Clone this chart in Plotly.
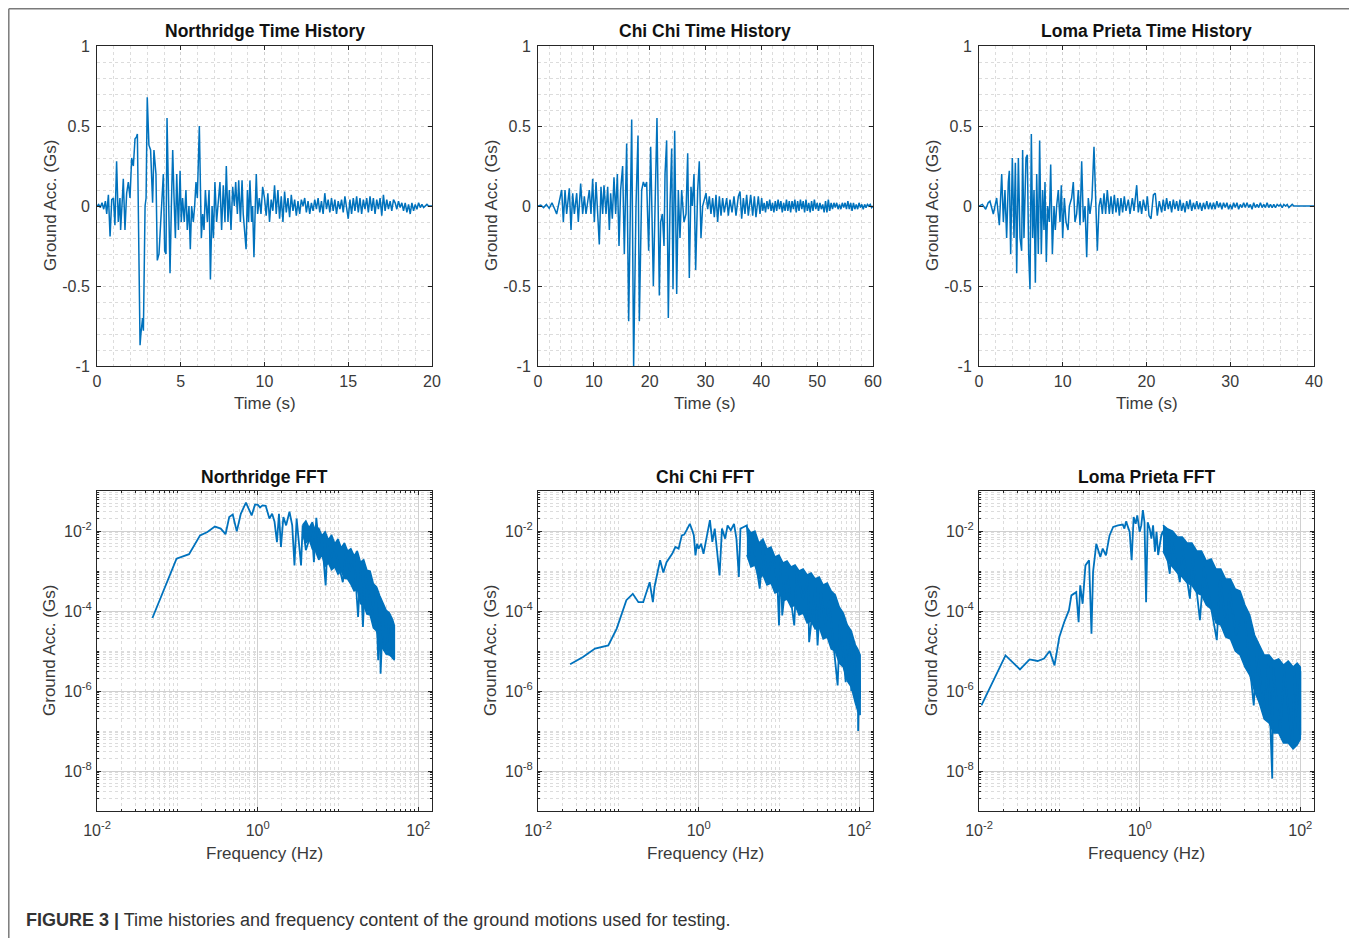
import numpy as np
import plotly.graph_objects as go

# ---------------- DATA ----------------
# Northridge time history (s, g)
nr_t_main = [
    0.00, 0.10, 0.20, 0.30, 0.40, 0.50, 0.58, 0.68, 0.78, 0.88,
    0.98, 1.07, 1.17, 1.27, 1.37, 1.41, 1.50, 1.57, 1.67, 1.77,
    1.87, 1.97, 2.07, 2.17, 2.27, 2.35, 2.41, 2.57, 2.62, 2.67,
    2.72, 2.77, 2.87, 2.93, 3.00, 3.10, 3.20, 3.32, 3.40, 3.52,
    3.60, 3.70, 3.80, 3.88, 3.96, 4.04, 4.12, 4.18, 4.26, 4.36,
    4.44, 4.52, 4.60, 4.68, 4.76, 4.86, 4.96, 5.03, 5.11, 5.21,
    5.31, 5.39, 5.49, 5.57, 5.65, 5.75, 5.83, 5.91, 5.99, 6.11,
    6.23, 6.31, 6.39, 6.47, 6.59, 6.69, 6.77, 6.87, 6.95, 7.04,
    7.14, 7.24, 7.34, 7.44, 7.54, 7.64, 7.72, 7.82, 7.90, 8.00,
    8.10, 8.20, 8.28, 8.38, 8.46, 8.56, 8.66, 8.73, 8.80, 8.90,
    8.98, 9.05, 9.13, 9.23, 9.29, 9.37, 9.45, 9.51, 9.59, 9.69,
    9.79, 9.89]
nr_a_main = [
    0.00, 0.01, -0.01, 0.02, -0.02, 0.03, -0.05, 0.07, -0.19, 0.04,
    0.05, -0.12, 0.28, -0.10, 0.05, -0.15, 0.02, 0.17, -0.15, 0.08,
    0.15, 0.05, 0.30, 0.25, 0.42, 0.43, 0.45, -0.87, -0.80, -0.75,
    -0.70, -0.78, 0.00, 0.05, 0.68, 0.38, 0.35, 0.02, 0.35, 0.20,
    -0.34, -0.30, -0.10, 0.05, 0.20, -0.28, -0.30, 0.55, 0.00, -0.42,
    0.00, 0.35, 0.05, -0.20, 0.20, -0.15, 0.22, -0.10, 0.05, -0.10,
    0.10, -0.15, 0.00, -0.27, 0.00, -0.10, 0.00, 0.15, 0.05, 0.50,
    -0.20, -0.05, -0.15, 0.10, -0.10, 0.10, -0.46, 0.00, -0.20, 0.15,
    -0.10, 0.05, 0.15, -0.15, 0.13, -0.10, 0.25, -0.10, 0.10, -0.15,
    0.12, 0.00, 0.15, -0.05, 0.16, -0.10, 0.16, -0.05, -0.15, -0.27,
    0.10, -0.10, 0.16, -0.10, 0.00, -0.32, 0.00, 0.20, -0.05, 0.05,
    -0.05, 0.12]
nr_tail_start, nr_tail_step = 10.0, 0.1
nr_a_tail = [
    0.05, -0.06, 0.08, -0.10, 0.04, -0.03, 0.13, -0.05, 0.10, -0.08,
    0.06, -0.10, 0.09, -0.04, 0.05, -0.07, 0.07, -0.03, 0.04, -0.06,
    0.03, -0.05, 0.04, 0.00, 0.05, -0.04, 0.03, -0.05, 0.02, -0.03,
    0.04, -0.02, 0.05, -0.04, 0.03, -0.05, 0.08, -0.02, 0.04, -0.04,
    0.05, -0.03, 0.04, -0.05, 0.03, -0.02, 0.04, -0.04, 0.06, -0.03,
    -0.08, 0.04, -0.05, 0.05, -0.03, 0.06, -0.04, 0.05, -0.05, 0.04,
    -0.02, 0.05, -0.04, 0.06, -0.03, 0.05, -0.05, 0.04, -0.02, 0.05,
    -0.06, 0.07, -0.03, 0.04, -0.02, 0.03, -0.03, 0.04, 0.02, -0.02,
    0.03, -0.01, 0.02, -0.03, 0.02, -0.04, 0.01, -0.05, 0.02, -0.03,
    0.01, -0.02, 0.02, -0.01, 0.01, -0.01, 0.00, 0.01, 0.00, 0.00,
    0.00]

# Chi Chi time history
cc_t_main = [
    0.0, 0.5, 1.0, 1.5, 2.0, 2.5, 3.0, 3.34, 3.94, 4.24,
    4.54, 4.84, 5.13, 5.61, 5.91, 6.21, 6.51, 6.93, 7.22, 7.64,
    8.00, 8.30, 8.60, 8.90, 9.19, 9.49, 9.79, 10.09, 10.39, 10.69,
    10.98, 11.28, 11.58, 11.82, 12.18, 12.48, 12.78, 13.01, 13.31, 13.61,
    13.91, 14.21, 14.51, 14.80, 15.16, 15.46, 15.88, 16.24, 16.78, 17.13,
    17.55, 17.91, 18.15, 18.57, 18.87, 19.16, 19.46, 19.82, 20.18, 20.66,
    20.95, 21.31, 21.73, 21.97, 22.27, 22.57, 22.75, 23.04, 23.34, 23.64,
    23.94, 24.18, 24.48, 24.84, 25.13, 25.43, 25.73, 26.15, 26.51, 26.81,
    27.10, 27.40, 27.64, 27.94, 28.24, 28.60, 28.89, 29.19, 29.49, 29.79,
    30.09, 30.39, 30.69, 30.98, 31.28, 31.58, 31.88, 32.18, 32.48, 32.78,
    33.07, 33.37, 33.79, 34.09, 34.39, 34.75, 35.10, 35.46, 35.88, 36.18,
    36.48, 36.78, 37.07, 37.37, 37.67, 38.09, 38.45, 38.75, 39.04, 39.46,
    39.76, 40.06]
cc_a_main = [
    0.0, 0.005, -0.01, 0.01, -0.015, 0.02, -0.02, -0.05, 0.05, 0.10,
    -0.10, 0.10, -0.05, 0.11, -0.15, 0.08, -0.05, 0.08, -0.10, 0.14,
    -0.05, 0.06, -0.05, 0.02, 0.10, -0.05, 0.17, -0.10, 0.15, -0.05,
    -0.24, 0.12, -0.05, 0.13, -0.05, 0.12, -0.15, 0.08, -0.08, 0.18,
    -0.05, 0.20, -0.25, 0.10, 0.25, -0.30, 0.39, -0.72, 0.54, -1.00,
    0.00, 0.44, -0.72, 0.10, 0.15, 0.12, 0.15, -0.28, 0.37, -0.50,
    0.00, 0.55, -0.56, -0.10, -0.05, -0.25, 0.20, 0.41, -0.70, 0.00,
    0.36, -0.52, 0.47, -0.55, 0.10, -0.20, 0.10, -0.10, -0.05, 0.33,
    -0.45, 0.12, 0.00, 0.20, -0.40, 0.10, 0.28, -0.20, 0.00, 0.05,
    0.08, -0.02, 0.06, -0.05, 0.05, -0.07, 0.07, -0.10, 0.06, -0.06,
    0.05, -0.04, 0.05, -0.06, 0.04, -0.04, 0.06, -0.06, 0.06, 0.09,
    -0.08, 0.05, -0.05, 0.07, -0.06, 0.07, -0.06, 0.06, -0.07, 0.06,
    -0.05, 0.05]
cc_tail_start, cc_tail_step = 40.25, 0.25
cc_a_tail = [
    -0.03, 0.02, -0.04, 0.03, -0.02, 0.04, -0.03, 0.02, -0.04, 0.03,
    -0.03, 0.04, -0.02, 0.03, -0.04, 0.02, -0.03, 0.04, -0.03, 0.03,
    -0.04, 0.03, -0.02, 0.04, -0.04, 0.03, -0.03, 0.04, -0.02, 0.03,
    -0.04, 0.04, -0.03, 0.02, -0.04, 0.03, -0.03, 0.04, -0.02, 0.02,
    -0.03, 0.02, -0.02, 0.01, -0.04, 0.03, -0.04, 0.04, -0.03, 0.02,
    -0.02, 0.02, -0.01, 0.02, -0.02, 0.01, -0.02, 0.02, -0.01, 0.02,
    -0.02, 0.03, -0.02, 0.02, -0.03, 0.02, -0.02, 0.01, -0.02, 0.02,
    -0.01, 0.01, -0.02, 0.01, -0.01, 0.01, 0.00, 0.01, -0.01, 0.00]

# Loma Prieta time history
lp_t_main = [
    0.0, 0.4, 0.8, 1.1, 1.31, 1.71, 2.11, 2.43, 2.71, 2.91,
    3.10, 3.30, 3.50, 3.62, 3.78, 3.98, 4.18, 4.34, 4.50, 4.70,
    4.90, 5.09, 5.21, 5.37, 5.61, 5.77, 5.93, 6.09, 6.25, 6.41,
    6.57, 6.73, 6.89, 7.08, 7.24, 7.44, 7.60, 7.76, 7.88, 8.04,
    8.20, 8.40, 8.56, 8.76, 8.96, 9.11, 9.27, 9.47, 9.67, 9.83,
    9.99, 10.19, 10.39, 10.63, 10.79, 11.06, 11.26, 11.46, 11.66, 11.86,
    12.06, 12.26, 12.46, 12.66, 12.86, 13.05, 13.25, 13.49, 13.73, 13.93,
    14.13, 14.33, 14.53, 14.73, 14.93, 15.12, 15.32, 15.56, 15.76, 15.96,
    16.16, 16.36, 16.56, 16.76, 16.95, 17.15, 17.35, 17.55, 17.83, 18.03,
    18.31, 18.51, 18.83, 19.02, 19.22, 19.42, 19.62, 19.90, 20.10, 20.30,
    20.54, 20.82, 21.05, 21.29, 21.53, 21.81]
lp_a_main = [
    0.0, 0.01, -0.02, 0.02, 0.03, -0.05, 0.05, -0.12, 0.20, -0.10,
    0.10, -0.20, 0.15, 0.22, -0.30, 0.30, -0.20, 0.27, -0.42, 0.30,
    -0.20, -0.28, 0.35, -0.20, 0.30, 0.32, -0.30, -0.52, 0.45, -0.20,
    0.10, -0.48, 0.20, -0.30, 0.41, -0.30, 0.10, -0.15, 0.15, -0.35,
    0.00, -0.10, 0.26, -0.30, 0.00, -0.15, 0.00, 0.10, -0.10, 0.13,
    -0.20, 0.05, -0.10, -0.15, 0.00, 0.05, 0.15, -0.10, -0.05, 0.10,
    -0.12, 0.28, -0.10, 0.00, -0.32, 0.05, -0.05, 0.05, 0.37, 0.00,
    -0.28, 0.00, 0.05, -0.05, 0.08, -0.05, 0.10, -0.05, 0.06, -0.05,
    0.07, -0.04, 0.05, -0.06, 0.05, -0.04, 0.06, -0.03, 0.04, -0.05,
    0.05, -0.03, 0.13, -0.04, 0.03, -0.05, 0.04, -0.03, 0.06, -0.06,
    -0.08, 0.07, 0.08, -0.06, 0.03, -0.04]
lp_tail_start, lp_tail_step = 22.0, 0.2
lp_a_tail = [
    0.04, -0.03, 0.05, -0.02, 0.03, -0.04, 0.04, -0.02, 0.03, -0.03,
    0.04, -0.03, 0.02, -0.04, 0.03, -0.02, 0.04, -0.03, 0.02, -0.02,
    0.03, -0.02, 0.02, -0.03, 0.02, -0.02, 0.03, -0.02, 0.02, -0.02,
    0.02, -0.02, 0.03, -0.01, 0.02, -0.02, 0.02, -0.01, 0.02, -0.02,
    0.01, -0.02, 0.02, -0.01, 0.02, -0.02, 0.01, -0.01, 0.02, -0.01,
    0.02, -0.01, 0.01, -0.02, 0.02, -0.01, 0.01, -0.01, 0.02, -0.01,
    0.01, -0.01, 0.02, -0.01, 0.01, -0.01, 0.01, -0.01, 0.01, 0.00,
    0.01, -0.01, 0.01, 0.00, 0.01, -0.01, 0.00, 0.01, 0.00, 0.00,
    0.00, 0.00, 0.00, 0.00, 0.00, 0.00, 0.00, 0.00, 0.00, 0.00, 0.00]

# FFT spectra, stored as log10(frequency Hz) and log10(amplitude g)
nr_fft_logf = [-1.31, -1.01, -0.854, -0.717, -0.625, -0.533, -0.46, -0.40, -0.354, -0.31,
               -0.26, -0.21, -0.146, -0.075, -0.033, 0.0, 0.03, 0.06, 0.10, 0.146,
               0.18, 0.21, 0.24, 0.265, 0.29, 0.32, 0.354, 0.396, 0.43, 0.458,
               0.485, 0.54, 0.56, 0.60, 0.65, 0.67, 0.70, 0.73, 0.76, 0.79,
               0.80, 0.846, 0.87, 0.90, 0.95, 1.06, 1.10, 1.15, 1.20, 1.25,
               1.28, 1.31, 1.34, 1.45, 1.47, 1.50, 1.52, 1.53, 1.56, 1.58,
               1.60, 1.63, 1.66, 1.68, 1.70, 1.70]
nr_fft_logA = [-4.175, -2.69, -2.58, -2.11, -2.025, -1.89, -1.94, -2.08, -1.65, -1.59,
               -2.01, -1.57, -1.29, -1.61, -1.34, -1.34, -1.41, -1.36, -1.37, -1.69,
               -1.57, -1.77, -2.28, -1.57, -2.40, -1.65, -1.86, -1.52, -1.86, -2.86,
               -1.69, -2.86, -1.86, -2.48, -2.15, -1.86, -2.78, -1.67, -2.30, -2.60,
               -2.20, -3.36, -2.30, -2.80, -2.35, -3.28, -2.50, -3.00, -2.65, -4.15,
               -2.90, -4.40, -3.10, -4.28, -3.50, -5.23, -3.90, -5.57, -4.10, -5.00,
               -4.30, -5.10, -4.30, -5.20, -4.35, -5.20]
nr_band_logf = [0.56, 0.60, 0.64, 0.68, 0.72, 0.76, 0.80, 0.84, 0.88, 0.92,
                0.96, 1.00, 1.04, 1.08, 1.12, 1.16, 1.20, 1.24, 1.28, 1.32,
                1.36, 1.40, 1.44, 1.48, 1.52, 1.56, 1.60, 1.64, 1.68, 1.70]
nr_band_up = [-1.85, -1.75, -1.92, -1.78, -2.0, -1.93, -2.12, -2.02, -2.22, -2.1,
              -2.32, -2.2, -2.42, -2.3, -2.5, -2.44, -2.62, -2.5, -2.78, -2.72,
              -2.98, -3.0, -3.32, -3.4, -3.62, -3.8, -3.98, -4.05, -4.22, -4.35]
nr_band_lo = [-2.1, -2.3, -2.2, -2.45, -2.5, -2.72, -2.6, -2.88, -2.8, -2.97,
              -2.9, -3.08, -3.0, -3.18, -3.2, -3.33, -3.5, -3.45, -3.82, -3.85,
              -4.08, -4.1, -4.42, -4.5, -4.82, -4.95, -5.08, -5.1, -5.17, -5.23]

cc_fft_logf = [-1.60, -1.44, -1.29, -1.125, -1.02, -0.90, -0.82, -0.75, -0.69, -0.61,
               -0.57, -0.55, -0.48, -0.44, -0.40, -0.33, -0.29, -0.25, -0.21, -0.18,
               -0.15, -0.11, -0.08, -0.06, -0.04, -0.02, 0.0, 0.03, 0.06, 0.10,
               0.14, 0.17, 0.20, 0.23, 0.26, 0.29, 0.33, 0.36, 0.40, 0.44,
               0.47, 0.50, 0.52, 0.56, 0.60, 0.63, 0.67, 0.72, 0.76, 0.80,
               0.86, 0.92, 0.98, 1.00, 1.02, 1.04, 1.10, 1.19, 1.22, 1.30,
               1.36, 1.375, 1.45, 1.48, 1.52, 1.58, 1.62, 1.73, 1.76, 1.83,
               1.86, 1.90, 1.93, 1.96, 1.98, 1.985, 2.0, 2.01]
cc_fft_logA = [-5.33, -5.15, -4.94, -4.86, -4.44, -3.73, -3.57, -3.78, -3.78, -3.28,
               -3.78, -3.40, -2.73, -3.04, -2.78, -2.57, -2.40, -2.44, -2.11, -2.09,
               -1.98, -1.82, -1.98, -2.11, -2.61, -2.32, -2.44, -2.32, -2.57, -2.19,
               -1.73, -2.27, -1.94, -2.52, -3.11, -1.94, -2.19, -1.86, -1.98, -1.82,
               -2.19, -3.15, -1.94, -1.90, -1.86, -2.60, -2.15, -2.90, -3.44, -2.40,
               -3.20, -2.55, -3.30, -4.36, -2.75, -4.11, -3.00, -4.36, -3.00, -3.70,
               -3.20, -4.78, -3.40, -4.86, -3.50, -4.40, -3.70, -5.86, -4.20, -5.78,
               -4.50, -6.00, -4.80, -6.30, -5.20, -7.00, -5.30, -6.20]
cc_band_logf = [0.60, 0.65, 0.70, 0.75, 0.80, 0.85, 0.90, 0.95, 1.00, 1.05,
                1.10, 1.15, 1.20, 1.25, 1.30, 1.35, 1.40, 1.45, 1.50, 1.55,
                1.60, 1.65, 1.70, 1.75, 1.80, 1.85, 1.90, 1.95, 1.98, 2.01]
cc_band_up = [-1.9, -2.05, -2.0, -2.3, -2.2, -2.45, -2.4, -2.65, -2.6, -2.8,
              -2.75, -2.9, -2.85, -3.0, -2.95, -3.1, -3.05, -3.2, -3.15, -3.35,
              -3.3, -3.5, -3.6, -3.9, -4.05, -4.35, -4.5, -4.85, -4.95, -5.1]
cc_band_lo = [-2.6, -2.9, -2.85, -3.2, -3.1, -3.35, -3.3, -3.55, -3.5, -3.75,
              -3.7, -3.9, -3.85, -4.1, -4.05, -4.3, -4.25, -4.45, -4.4, -4.7,
              -4.65, -4.95, -5.0, -5.3, -5.4, -5.75, -5.9, -6.3, -6.5, -6.6]

lp_fft_logf = [-1.97, -1.67, -1.49, -1.37, -1.27, -1.19, -1.12, -1.06, -1.00, -0.94,
               -0.88, -0.85, -0.79, -0.76, -0.74, -0.71, -0.675, -0.63, -0.60, -0.58,
               -0.54, -0.49, -0.46, -0.42, -0.375, -0.33, -0.27, -0.21, -0.19, -0.17,
               -0.125, -0.10, -0.075, -0.05, -0.03, 0.0, 0.02, 0.04, 0.06, 0.08,
               0.10, 0.125, 0.146, 0.167, 0.19, 0.21, 0.23, 0.27, 0.29, 0.375,
               0.40, 0.50, 0.53, 0.625, 0.66, 0.75, 0.80, 0.96, 1.00, 1.08,
               1.12, 1.20, 1.30, 1.42, 1.46, 1.55, 1.60, 1.65, 1.66, 1.75,
               1.80, 1.90, 1.93, 1.97, 2.0, 2.0]
lp_fft_logA = [-6.36, -5.11, -5.46, -5.21, -5.25, -5.19, -5.00, -5.36, -4.65, -4.28,
               -3.98, -3.61, -3.53, -4.28, -3.36, -3.82, -2.86, -2.73, -4.57, -3.02,
               -2.32, -2.65, -2.44, -2.61, -2.11, -1.90, -1.86, -1.84, -1.94, -1.76,
               -2.02, -2.73, -1.65, -1.82, -1.61, -2.02, -1.86, -1.48, -1.78, -3.78,
               -1.78, -1.94, -2.19, -1.86, -2.52, -2.02, -2.60, -2.10, -2.00, -3.07,
               -2.20, -3.28, -2.40, -3.69, -2.60, -4.23, -2.90, -4.73, -3.20, -4.44,
               -3.50, -4.60, -4.00, -6.36, -5.00, -6.50, -5.30, -8.19, -5.40, -7.00,
               -5.50, -7.40, -5.50, -7.00, -5.50, -7.10]
lp_band_logf = [0.29, 0.35, 0.41, 0.47, 0.53, 0.59, 0.65, 0.71, 0.77, 0.83,
                0.89, 0.95, 1.01, 1.07, 1.13, 1.19, 1.25, 1.31, 1.37, 1.43,
                1.49, 1.55, 1.61, 1.67, 1.73, 1.79, 1.85, 1.91, 1.96, 2.0]
lp_band_up = [-1.85, -1.95, -2.0, -2.15, -2.15, -2.3, -2.3, -2.5, -2.5, -2.75,
              -2.7, -2.95, -2.95, -3.2, -3.2, -3.45, -3.5, -3.85, -4.1, -4.6,
              -4.85, -5.1, -5.1, -5.25, -5.2, -5.35, -5.25, -5.4, -5.3, -5.4]
lp_band_lo = [-2.5, -2.75, -2.9, -3.05, -3.15, -3.3, -3.35, -3.55, -3.6, -3.85,
              -3.95, -4.3, -4.35, -4.65, -4.7, -5.0, -5.1, -5.4, -5.6, -6.0,
              -6.3, -6.7, -6.8, -7.05, -7.05, -7.3, -7.3, -7.45, -7.35, -7.2]

titles_time = ["Northridge Time History", "Chi Chi Time History", "Loma Prieta Time History"]
titles_fft = ["Northridge FFT", "Chi Chi FFT", "Loma Prieta FFT"]
time_ranges = [20, 60, 40]
time_major = [5, 10, 10]
time_minor = [1, 2, 2]
caption_bold = "FIGURE 3 |"
caption_text = " Time histories and frequency content of the ground motions used for testing."

# ---------------- BUILD ----------------
def series(t_main, a_main, start, step, a_tail):
    assert len(t_main) == len(a_main)
    t_tail = start + step * np.arange(len(a_tail))
    return np.concatenate([t_main, t_tail]), np.concatenate([a_main, a_tail])

time_series = [
    series(nr_t_main, nr_a_main, nr_tail_start, nr_tail_step, nr_a_tail),
    series(cc_t_main, cc_a_main, cc_tail_start, cc_tail_step, cc_a_tail),
    series(lp_t_main, lp_a_main, lp_tail_start, lp_tail_step, lp_a_tail),
]
fft_lines = [(nr_fft_logf, nr_fft_logA), (cc_fft_logf, cc_fft_logA), (lp_fft_logf, lp_fft_logA)]
fft_bands = [(nr_band_logf, nr_band_up, nr_band_lo), (cc_band_logf, cc_band_up, cc_band_lo),
             (lp_band_logf, lp_band_up, lp_band_lo)]
for lf, la in fft_lines:
    assert len(lf) == len(la)
for bf, bu, bl in fft_bands:
    assert len(bf) == len(bu) == len(bl)

W, H = 1357, 938
OFF = 8  # the page body adds an 8px margin; compensate so positions match the window
BLUE = "#0072BD"
AXC = "#262626"
TXT = "#3a3a3a"
FONT = "Arial, Liberation Sans, Helvetica, sans-serif"
MAJ_GRID = "#d0d0d0"
MIN_GRID = "#dcdcdc"
FRAME = "#7a7a7a"

col_px = [(97, 432), (538, 873), (979, 1314)]
row_px = [(46, 366), (491, 811)]

def px_x(v):
    return (v - OFF) / W

def px_y(v):
    return 1 - (v - OFF) / H

fig = go.Figure()
layout = dict(
    width=W, height=H, margin=dict(l=0, r=0, t=0, b=0, autoexpand=False),
    paper_bgcolor="white", plot_bgcolor="white", showlegend=False,
    font=dict(family=FONT, size=16, color=TXT),
)

minor_x = [k * 10.0 ** n for n in range(-2, 3) for k in range(1, 10)]
minor_y = [k * 10.0 ** n for n in range(-9, -1) for k in range(1, 10)]

common = dict(ticks="inside", ticklen=4, tickcolor=AXC, showline=True, linecolor=AXC,
              linewidth=1, mirror="ticks", showgrid=True, gridwidth=1, zeroline=False,
              automargin=False, tickfont=dict(size=16, color=TXT))

annotations = []
for c in range(3):
    x0, x1 = col_px[c]
    dom_x = [px_x(x0), px_x(x1)]
    # ---- time history (row 1)
    i = c + 1
    sfx = "" if i == 1 else str(i)
    t, a = time_series[c]
    fig.add_trace(go.Scatter(x=t, y=a, mode="lines", line=dict(color=BLUE, width=1.5),
                             xaxis=f"x{sfx}", yaxis=f"y{sfx}", hoverinfo="skip"))
    tv = list(range(0, time_ranges[c] + 1, time_major[c]))
    layout[f"xaxis{sfx}"] = dict(domain=dom_x, anchor=f"y{sfx}", range=[0, time_ranges[c]],
                                 tickmode="array", tickvals=tv, ticktext=[str(v) for v in tv],
                                 gridcolor=MAJ_GRID, griddash="dot", ticklabelstandoff=1,
                                 minor=dict(dtick=time_minor[c], tick0=0, showgrid=True,
                                            gridcolor=MIN_GRID, griddash="dot", ticks=""),
                                 **common)
    y0, y1 = row_px[0]
    yv = [-1, -0.5, 0, 0.5, 1]
    layout[f"yaxis{sfx}"] = dict(domain=[px_y(y1), px_y(y0)], anchor=f"x{sfx}", range=[-1, 1],
                                 tickmode="array", tickvals=yv,
                                 ticktext=["-1", "-0.5", "0", "0.5", "1"],
                                 gridcolor=MAJ_GRID, griddash="dot", ticklabelstandoff=3,
                                 minor=dict(dtick=0.1, tick0=0, showgrid=True,
                                            gridcolor=MIN_GRID, griddash="dot", ticks=""),
                                 **common)
    # ---- FFT (row 2)
    j = c + 4
    bf, bu, bl = fft_bands[c]
    bx = [10.0 ** v for v in list(bf) + list(bf)[::-1]]
    by = [10.0 ** v for v in list(bu) + list(bl)[::-1]]
    fig.add_trace(go.Scatter(x=bx, y=by, mode="lines", fill="toself", fillcolor=BLUE,
                             line=dict(color=BLUE, width=1.5), xaxis=f"x{j}", yaxis=f"y{j}",
                             hoverinfo="skip"))
    lf, la = fft_lines[c]
    fig.add_trace(go.Scatter(x=[10.0 ** v for v in lf], y=[10.0 ** v for v in la], mode="lines",
                             line=dict(color=BLUE, width=1.8), xaxis=f"x{j}", yaxis=f"y{j}",
                             hoverinfo="skip"))
    layout[f"xaxis{j}"] = dict(domain=dom_x, anchor=f"y{j}", type="log", range=[-2, 2.17],
                               tickmode="array", tickvals=[0.01, 1, 100],
                               ticktext=["10<sup>-2</sup>", "10<sup>0</sup>", "10<sup>2</sup>"],
                               gridcolor=MAJ_GRID, ticklabelstandoff=5,
                               minor=dict(tickmode="array", tickvals=minor_x, showgrid=True,
                                          gridcolor=MIN_GRID, griddash="dot", ticks="inside",
                                          ticklen=2, tickcolor=AXC),
                               **common)
    y0, y1 = row_px[1]
    layout[f"yaxis{j}"] = dict(domain=[px_y(y1), px_y(y0)], anchor=f"x{j}", type="log",
                               range=[-9, -1], tickmode="array",
                               tickvals=[1e-8, 1e-6, 1e-4, 1e-2],
                               ticktext=["10<sup>-8</sup>", "10<sup>-6</sup>", "10<sup>-4</sup>",
                                         "10<sup>-2</sup>"],
                               gridcolor=MAJ_GRID, ticklabelstandoff=1,
                               minor=dict(tickmode="array", tickvals=minor_y, showgrid=True,
                                          gridcolor=MIN_GRID, griddash="dot", ticks="inside",
                                          ticklen=2, tickcolor=AXC),
                               **common)

    cx = (x0 + x1) / 2
    annotations += [
        dict(text=f"<b>{titles_time[c]}</b>", x=px_x(cx), y=px_y(31), xref="paper", yref="paper",
             showarrow=False, font=dict(size=17.5, color="#111111"), xanchor="center",
             yanchor="middle"),
        dict(text=f"<b>{titles_fft[c]}</b>", x=px_x(cx), y=px_y(477), xref="paper", yref="paper",
             showarrow=False, font=dict(size=17.5, color="#111111"), xanchor="center",
             yanchor="middle"),
        dict(text="Time (s)", x=px_x(cx), y=px_y(403), xref="paper", yref="paper",
             showarrow=False, font=dict(size=17, color=TXT), xanchor="center", yanchor="middle"),
        dict(text="Frequency (Hz)", x=px_x(cx), y=px_y(853), xref="paper", yref="paper",
             showarrow=False, font=dict(size=17, color=TXT), xanchor="center", yanchor="middle"),
        dict(text="Ground Acc. (Gs)", x=px_x(x0 - 47), y=px_y(206), xref="paper", yref="paper",
             showarrow=False, font=dict(size=17, color=TXT), textangle=-90,
             xanchor="center", yanchor="middle"),
        dict(text="Ground Acc. (Gs)", x=px_x(x0 - 48), y=px_y(651), xref="paper", yref="paper",
             showarrow=False, font=dict(size=17, color=TXT), textangle=-90,
             xanchor="center", yanchor="middle"),
    ]

annotations.append(dict(
    text=f"<b>{caption_bold}</b>{caption_text}", x=px_x(24), y=px_y(920), xref="paper",
    yref="paper", showarrow=False, xanchor="left", yanchor="middle",
    font=dict(family=FONT, size=18, color="#333333")))
layout["annotations"] = annotations
# outer frame of the figure panel (open at the bottom)
fl, fr, ft, fb = 8.8, 1354.5, 8.8, 950
layout["shapes"] = [
    dict(type="line", xref="paper", yref="paper", x0=px_x(fl), x1=px_x(fr),
         y0=px_y(ft), y1=px_y(ft), line=dict(color=FRAME, width=1.5)),
    dict(type="line", xref="paper", yref="paper", x0=px_x(fl), x1=px_x(fl),
         y0=px_y(ft), y1=px_y(fb), line=dict(color=FRAME, width=1.5)),
    dict(type="line", xref="paper", yref="paper", x0=px_x(fr), x1=px_x(fr),
         y0=px_y(ft), y1=px_y(fb), line=dict(color=FRAME, width=1.5)),
]
fig.update_layout(**layout)
fig.write_html("out.html")
